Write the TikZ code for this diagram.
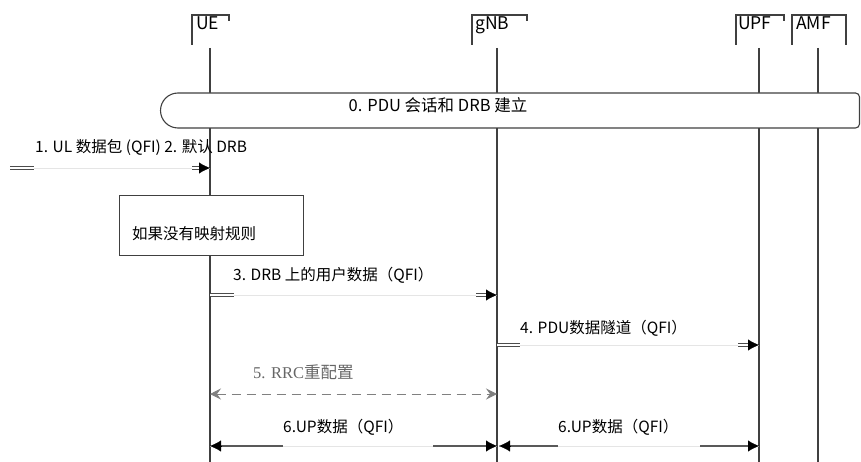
\documentclass[tikz,border=0pt]{standalone}
\usepackage{fontspec}
\setmainfont{Noto Sans CJK SC}
\newfontfamily\rrcfont{Liberation Serif}
\usetikzlibrary{arrows.meta,calc}
\tikzset{
  head/.style={anchor=north west, inner sep=0pt, font=\fontsize{17.5}{20}\selectfont},
  bracket/.style={draw=black!75, line width=1.1pt},
  lifeline/.style={draw=black!75, line width=1.1pt},
  boxline/.style={draw=black!75, line width=1.1pt, fill=white},
  faint/.style={draw=black!10, line width=0.7pt},
  stub/.style={draw=black!70, double=white, double distance=1.1pt, line width=1pt},
  bar/.style={draw=black!65, line width=2.8pt},
  tip/.style={-{Latex[length=11pt,width=11pt]}, line width=0.1pt},
  rrctip/.style={{Stealth[length=11pt,width=11pt,inset=4pt]}-{Stealth[length=11pt,width=11pt,inset=4pt]}},
  dashline/.style={draw=black!50, line width=1pt, dash pattern=on 9pt off 6pt},
  msg/.style={anchor=base west, inner sep=0pt, font=\fontsize{15.5}{18}\selectfont},
}
\begin{document}
\begin{tikzpicture}[x=1pt, y=-1pt]
    \useasboundingbox (0,0) rectangle (861,462);
    % Heads
    \node[head] (ue) at (196,16) {UE};
    \node[head] (gnb) at (475,16) {gNB};
    \node[head] (upf) at (738,16) {UPF};
    \node[head] (amf) at (796,16) {AMF};
    \draw[bracket] (192,45) -- (192,15) -- (229,15) -- (229,21);
    \draw[bracket] (472,45) -- (472,15) -- (527,15) -- (527,21);
    \draw[bracket] (736,45) -- (736,15) -- (784,15) -- (784,21);
    \draw[bracket] (792,45) -- (792,15) -- (846,15) -- (846,45);
    % Lifelines
    \foreach \name/\x in {ue/210, gnb/497, upf/759, amf/818} {
        \coordinate (\name-top) at (\x,48);
        \coordinate (\name-bot) at (\x,462);
        \draw[lifeline] (\name-top) -- (\name-bot);
    }
    % 0. setup box
    \draw[boxline] (178,93) arc[start angle=90, end angle=270, radius=17.5pt]
        [rounded corners=4pt] -- (859.5,128) -- (859.5,93) -- (178,93);
    \node[msg, anchor=base, font=\fontsize{16.5}{19}\selectfont] (setup) at (438,112) {0. PDU 会话和 DRB 建立};
    % 1. UL packet
    \coordinate (m1a) at (10,168);
    \coordinate (m1b) at (210,168);
    \node[msg] (msg1) at (35,153) {1. UL 数据包 (QFI) 2. 默认 DRB};
    \draw[faint] (m1a) -- (m1b);
    \draw[stub] (m1a) -- ($(m1a)+(24,0)$);
    \draw[stub] ($(m1b)+(-18,0)$) -- ($(m1b)+(-10,0)$);
    \draw[tip] ($(m1b)+(-11,0)$) -- (m1b);
    % No mapping rule box
    \node[boxline, minimum width=184pt, minimum height=60pt, anchor=north west, inner sep=0pt] (nomap) at (119,195) {};
    \node[msg] (nomaptext) at (132,240) {如果没有映射规则};
    % 3. user data on DRB
    \coordinate (m3a) at (210,295);
    \coordinate (m3b) at (497,295);
    \node[msg] (msg3) at (233,280) {3. DRB 上的用户数据（QFI）};
    \draw[faint] (m3a) -- (m3b);
    \draw[stub] (m3a) -- ($(m3a)+(24,0)$);
    \draw[stub] ($(m3b)+(-21,0)$) -- ($(m3b)+(-10,0)$);
    \draw[tip] ($(m3b)+(-11,0)$) -- (m3b);
    % 4. PDU tunnel
    \coordinate (m4a) at (497,345);
    \coordinate (m4b) at (759,345);
    \node[msg] (msg4) at (520,333) {4. PDU数据隧道（QFI）};
    \draw[faint] (m4a) -- (m4b);
    \draw[stub] (m4a) -- ($(m4a)+(23,0)$);
    \draw[stub] ($(m4b)+(-21,0)$) -- ($(m4b)+(-10,0)$);
    \draw[tip] ($(m4b)+(-11,0)$) -- (m4b);
    % 5. RRC reconfiguration
    \coordinate (m5a) at (210,394);
    \coordinate (m5b) at (497,394);
    \node[msg, font=\fontsize{16.5}{19}\selectfont, text=black!60] (msg5) at (253,378) {\rrcfont 5. RRC\normalfont 重配置};
    \draw[dashline, rrctip] (m5a) -- (m5b);
    % 6. UP data
    \coordinate (m6a) at (210,446);
    \coordinate (m6b) at (497,446);
    \coordinate (m6c) at (499,446);
    \coordinate (m6d) at (759,446);
    \node[msg] (msg6a) at (283,432) {6.UP数据（QFI）};
    \node[msg] (msg6b) at (558,432) {6.UP数据（QFI）};
    \draw[faint] (m6a) -- (m6b);
    \draw[bar] ($(m6a)+(6,0)$) -- ($(m6a)+(73,0)$);
    \draw[bar] ($(m6b)+(-64,0)$) -- ($(m6b)+(-10,0)$);
    \draw[tip] ($(m6a)+(11,0)$) -- (m6a);
    \draw[tip] ($(m6b)+(-11,0)$) -- (m6b);
    \draw[faint] (m6c) -- (m6d);
    \draw[bar] ($(m6c)+(10,0)$) -- ($(m6c)+(59,0)$);
    \draw[bar] ($(m6d)+(-59,0)$) -- ($(m6d)+(-10,0)$);
    \draw[tip] ($(m6c)+(11,0)$) -- (m6c);
    \draw[tip] ($(m6d)+(-11,0)$) -- (m6d);
\end{tikzpicture}
\end{document}
